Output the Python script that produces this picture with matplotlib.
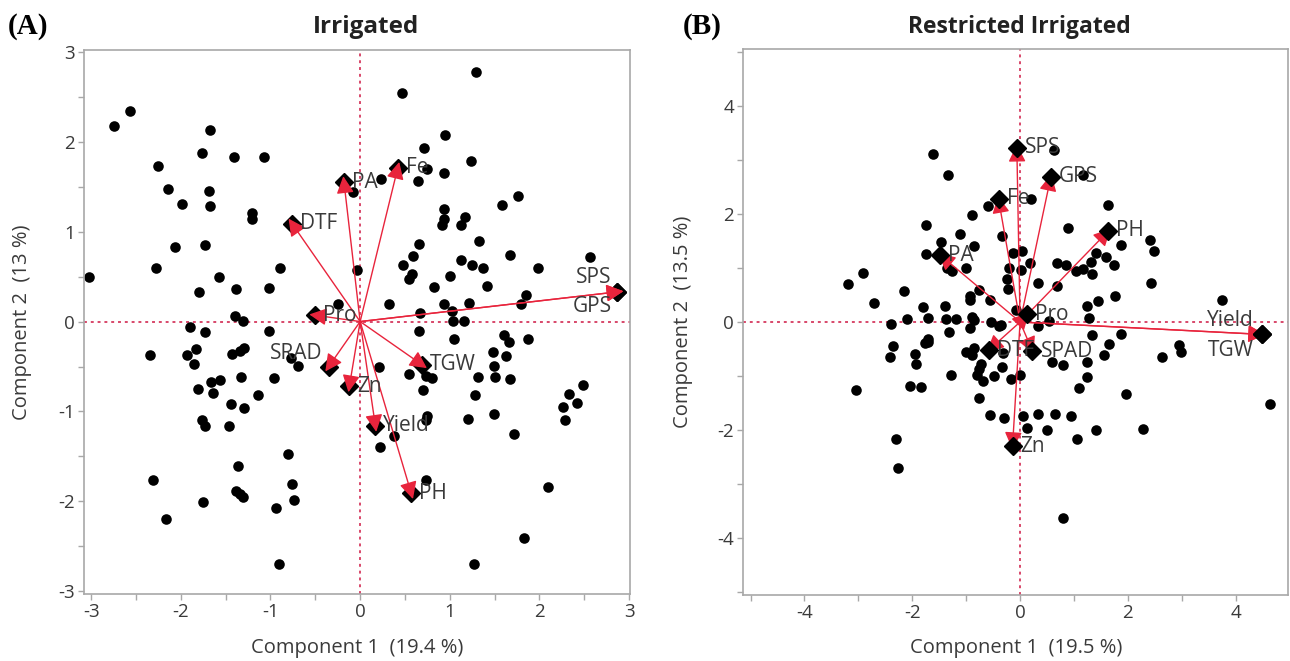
import matplotlib
matplotlib.use('Agg')
import matplotlib.pyplot as plt
import numpy as np
from matplotlib.ticker import MultipleLocator

plt.rcParams['font.family'] = ['Open Sans', 'DejaVu Sans']
plt.rcParams['axes.unicode_minus'] = False

# ---------------- Panel A : Irrigated ----------------
irr_x = [-3.02, -2.75, -2.57, -1.68, -1.76, -1.41, -1.07, -2.26, -2.14, -1.69, -1.99, -1.67, -1.21, -1.21,
         -2.06, -1.73, -2.28, -0.89, -1.57, -1.80, -1.39, -1.02, -0.25, -1.40, -1.31, -1.90, -1.73, -1.02,
         -0.08, -0.03,
         1.29, 0.47, 0.95, 0.71, 1.24, 0.75, 0.93, 0.64, 0.23, 1.58, 1.76, 0.93, 0.94, 0.91, 1.17, 1.13,
         1.33, 0.66, 1.67, 2.56, 0.59, 0.48, 1.13, 1.25, 1.37, 1.98, 0.58, 0.55, 1.00, 1.41, 0.82, 1.85,
         1.79, 0.32, 0.94, 1.21, 1.02, 0.67, 1.04, 1.16, 0.66, 1.60, 1.05, 1.87,
         1.66, 1.48, 1.63, 1.49, 0.21, 0.54, 0.74, 0.80, 1.31, 1.50, 1.67, 2.49, 0.70, 2.33, 1.28, 2.26,
         2.42, 2.29, 0.75, 0.73, 1.20, 1.49, 1.72, 0.38, 0.22, 0.73, 2.09, 1.83, 1.27,
         -2.34, -1.93, -1.83, -1.85, -1.43, -1.34, -1.29, -0.77, -0.69, -1.66, -1.56, -1.33, -0.96, -1.81,
         -1.64, -1.14, -1.44, -1.29, -1.76, -1.73, -1.46, -0.80, -1.36, -2.31, -0.76, -1.38, -1.34, -1.31,
         -0.74, -1.75, -0.94, -2.16, -0.91]
irr_y = [0.50, 2.17, 2.34, 2.13, 1.87, 1.83, 1.83, 1.73, 1.47, 1.45, 1.31, 1.29, 1.21, 1.14,
         0.83, 0.85, 0.59, 0.60, 0.50, 0.33, 0.36, 0.37, 0.20, 0.06, 0.01, -0.06, -0.12, -0.10,
         1.44, 0.57,
         2.77, 2.54, 2.07, 1.93, 1.78, 1.70, 1.65, 1.56, 1.59, 1.30, 1.40, 1.25, 1.14, 1.07, 1.16, 1.07,
         0.90, 0.86, 0.74, 0.72, 0.73, 0.63, 0.68, 0.63, 0.59, 0.59, 0.53, 0.47, 0.51, 0.40, 0.38, 0.29,
         0.19, 0.19, 0.19, 0.21, 0.12, 0.10, 0.01, 0.01, -0.10, -0.15, -0.19, -0.19,
         -0.23, -0.34, -0.38, -0.49, -0.51, -0.58, -0.61, -0.63, -0.62, -0.62, -0.64, -0.71, -0.76, -0.81,
         -0.82, -0.95, -0.91, -1.10, -1.05, -1.09, -1.08, -1.03, -1.25, -1.27, -1.40, -1.76, -1.84, -2.41,
         -2.70,
         -0.37, -0.37, -0.31, -0.47, -0.36, -0.33, -0.29, -0.41, -0.49, -0.67, -0.65, -0.62, -0.63, -0.75,
         -0.79, -0.82, -0.92, -0.96, -1.09, -1.16, -1.16, -1.47, -1.61, -1.76, -1.81, -1.88, -1.92, -1.95,
         -1.98, -2.01, -2.07, -2.20, -2.70]

irr_vars = ['PA', 'Fe', 'DTF', 'Pro', 'SPS', 'GPS', 'SRAD', 'Zn', 'TGW', 'Yield', 'PH']
irr_vx = [-0.18, 0.42, -0.76, -0.50, 2.87, 2.87, -0.35, -0.12, 0.69, 0.17, 0.57]
irr_vy = [1.55, 1.71, 1.09, 0.07, 0.33, 0.33, -0.50, -0.72, -0.48, -1.16, -1.91]

# ---------------- Panel B : Restricted Irrigated ----------------
res_x = [-1.61, -1.33, -0.60, -0.89, -1.75, -1.12, -0.34, -1.46, -0.86, -1.75, -1.36, -1.26, -1.00,
         -3.20, -2.92, -2.16, -2.71, -1.80, -1.40, -0.77, -0.93, -0.92, -0.56, -0.23, -0.25, -0.21,
         -2.10, -1.71, -1.37, -1.19, -0.89, -0.85, -0.54, -0.40, -2.40, -1.32, -0.93, -1.71,
         0.62, 1.16, 0.21, 1.64, 0.88, 2.41, 2.48, 1.88, -0.14, 0.03, 1.40, 1.60, 1.74, 0.01, 0.18,
         0.68, 0.86, 1.03, 1.17, 1.31, 1.33, 0.33, 0.69, 2.43, 1.76, 1.45, 1.25, 3.74, -0.07, 1.27,
         0.33, 0.54, -0.35, 1.33, 1.87,
         1.65, 2.95, 2.99, 2.63, 1.55, 1.25, 0.79, 0.60, -0.33, -0.17, 0.00, 1.25, 1.10, 1.96, 4.64,
         -0.29, 0.05, 0.33, 0.64, 0.95, 0.13, 0.50, 1.41, 2.28, 1.05, 0.80,
         -2.36, -2.42, -1.95, -1.93, -1.76, -1.70, -1.29, -1.01, -0.86, -0.90, -0.32, -0.72, -0.77,
         -0.80, -0.69, -0.48, -3.05, -2.04, -1.83, -0.77, -0.55, -2.30, -2.26]
res_y = [3.11, 2.73, 2.15, 1.98, 1.79, 1.64, 1.59, 1.49, 1.41, 1.26, 1.01, 0.94, 1.00,
         0.70, 0.90, 0.57, 0.35, 0.27, 0.30, 0.59, 0.48, 0.41, 0.41, 0.61, 0.79, 1.01,
         0.05, 0.07, 0.06, 0.06, 0.10, 0.04, 0.00, -0.07, -0.04, -0.18, -0.12, -0.31,
         3.19, 2.73, 2.28, 2.16, 1.75, 1.52, 1.31, 1.42, 1.28, 1.31, 1.28, 1.20, 1.06, 0.96, 1.10,
         1.10, 1.06, 0.95, 0.99, 1.11, 0.89, 0.73, 0.67, 0.73, 0.48, 0.38, 0.30, 0.41, 0.22, 0.07,
         -0.07, 0.01, -0.06, -0.25, -0.22,
         -0.41, -0.43, -0.56, -0.64, -0.62, -0.75, -0.79, -0.75, -0.83, -1.06, -0.98, -1.02, -1.23,
         -1.33, -1.52, -1.78, -1.74, -1.71, -1.71, -1.74, -1.96, -2.00, -2.00, -1.98, -2.17, -3.64,
         -0.45, -0.64, -0.60, -0.78, -0.39, -0.37, -0.98, -0.55, -0.49, -0.62, -0.58, -0.78, -0.88,
         -0.98, -1.09, -1.01, -1.26, -1.19, -1.21, -1.41, -1.72, -2.17, -2.71]

res_vars = ['SPS', 'GPS', 'Fe', 'PH', 'PA', 'Pro', 'Yield', 'TGW', 'DTF', 'SPAD', 'Zn']
res_vx = [-0.06, 0.57, -0.40, 1.64, -1.48, 0.13, 4.49, 4.49, -0.58, 0.23, -0.14]
res_vy = [3.23, 2.69, 2.28, 1.69, 1.24, 0.14, -0.23, -0.23, -0.52, -0.54, -2.30]

W, H = 1290, 661
fig = plt.figure(figsize=(W / 100, H / 100), dpi=100)


def fx(px):
    return px / W


def fy(py):
    return 1 - py / H


TXT = '#3a3a3a'
GRAY = '#a8a8a8'
RED_LINE = '#e04a5e'
RED_HEAD = '#e8243c'
DOT = '#d8486a'


def make_panel(rect, xs, ys, names, vx, vy, xlim, ylim, major, minor, offsets, head_on_top):
    ax = fig.add_axes(rect)
    ax.set_xlim(*xlim)
    ax.set_ylim(*ylim)
    for s in ax.spines.values():
        s.set_color(GRAY)
        s.set_linewidth(1.2)
    ax.xaxis.set_major_locator(MultipleLocator(major))
    ax.yaxis.set_major_locator(MultipleLocator(major))
    ax.xaxis.set_minor_locator(MultipleLocator(minor))
    ax.yaxis.set_minor_locator(MultipleLocator(minor))
    ax.tick_params(which='both', direction='out', length=4.5, width=1, color=GRAY,
                   labelsize=13.5, labelcolor=TXT, pad=2)
    ax.axhline(0, color=DOT, lw=1.4, ls=(0, (1.5, 2.0)), zorder=1)
    ax.axvline(0, color=DOT, lw=1.4, ls=(0, (1.5, 2.0)), zorder=1)
    ax.scatter(xs, ys, s=58, color='black', zorder=2, linewidths=0)
    tr = ax.transData
    inv = tr.inverted()
    o = tr.transform((0, 0))
    dz = 3 if head_on_top else 5
    for n, x, y in zip(names, vx, vy):
        ax.plot([x], [y], marker='D', ms=9.5, color='black', zorder=dz)
        p = tr.transform((x, y))
        u = (p - o) / np.hypot(*(p - o))
        tip = inv.transform(p + u * (6.0 if head_on_top else 3.0))
        ax.annotate('', xy=tuple(tip), xytext=(0, 0),
                    arrowprops=dict(arrowstyle='-|>,head_length=0.75,head_width=0.38',
                                    color=RED_LINE, fc=RED_HEAD, ec=RED_HEAD, lw=1.0,
                                    shrinkA=0, shrinkB=0, mutation_scale=14),
                    zorder=4)
        dx, dy, ha = offsets.get(n, (8, 0, 'left'))
        ax.annotate(n, xy=(x, y), xytext=(dx, dy), textcoords='offset pixels',
                    ha=ha, va='center', fontsize=15, color=TXT, zorder=6)
    return ax


axA = make_panel([fx(84), fy(594), fx(630) - fx(84), fy(50) - fy(594)],
                 irr_x, irr_y, irr_vars, irr_vx, irr_vy,
                 (-3.08, 3.01), (-3.03, 3.02), 1, 0.5,
                 {'SPS': (-6, 14, 'right'), 'GPS': (-6, -15, 'right'),
                  'SRAD': (-6, 13, 'right')}, True)

axB = make_panel([fx(743), fy(595), fx(1288) - fx(743), fy(49) - fy(595)],
                 res_x, res_y, res_vars, res_vx, res_vy,
                 (-5.14, 4.97), (-5.06, 5.06), 2, 1,
                 {'Yield': (-8, 14, 'right'), 'TGW': (-8, -16, 'right')}, False)

# titles and panel letters
fig.text(fx(8), fy(27), '(A)', family=['Liberation Serif', 'DejaVu Serif'], weight='bold',
         fontsize=21, ha='left', va='center', color='black')
fig.text(fx(683), fy(27), '(B)', family=['Liberation Serif', 'DejaVu Serif'], weight='bold',
         fontsize=21, ha='left', va='center', color='black')
fig.text(fx(366), fy(27), 'Irrigated', weight='bold', fontsize=17.5, ha='center', va='center',
         color='#222222')
fig.text(fx(1019), fy(27), 'Restricted Irrigated', weight='bold', fontsize=16.5, ha='center',
         va='center', color='#222222')

# axis labels
fig.text(fx(357), fy(648), 'Component 1  (19.4 %)', fontsize=14.5, ha='center', va='center', color=TXT)
fig.text(fx(1016), fy(648), 'Component 1  (19.5 %)', fontsize=14.5, ha='center', va='center', color=TXT)
fig.text(fx(22), fy(322), 'Component 2  (13 %)', fontsize=14.5, ha='center', va='center',
         rotation=90, color=TXT)
fig.text(fx(683), fy(322), 'Component 2  (13.5 %)', fontsize=14.5, ha='center', va='center',
         rotation=90, color=TXT)

fig.savefig('out.png', dpi=100)
